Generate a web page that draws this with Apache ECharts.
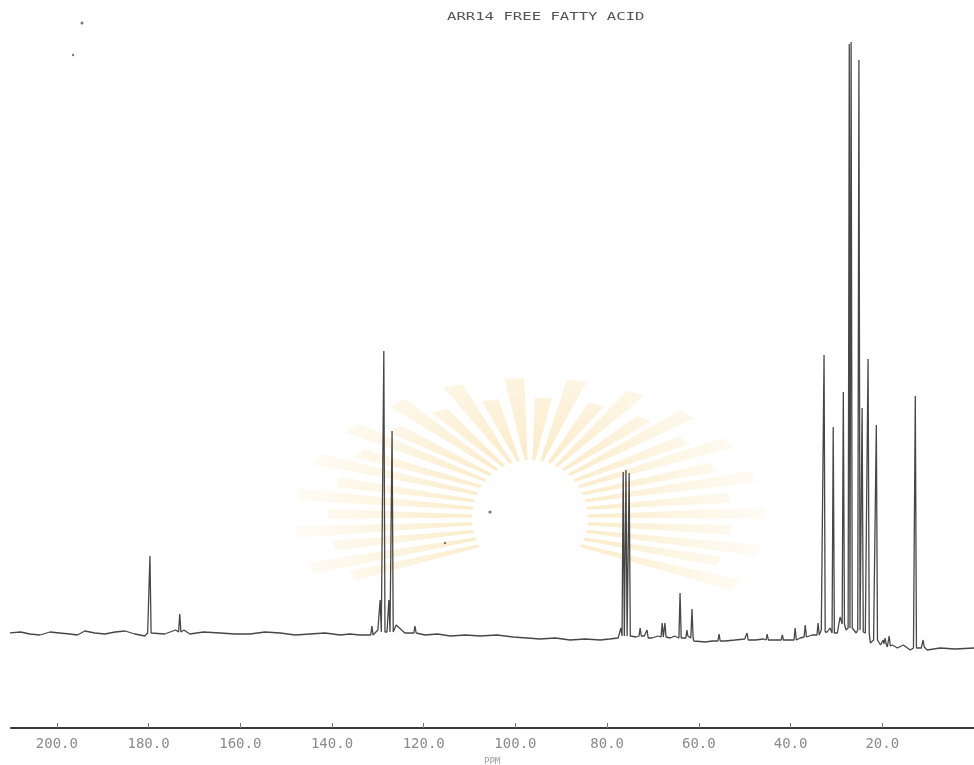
<!DOCTYPE html>
<html>
<head>
<meta charset="utf-8">
<script src="https://cdn.jsdelivr.net/npm/echarts@6/dist/echarts.min.js"></script>
<style>
  html, body { margin: 0; padding: 0; background: #ffffff; }
  #chart { width: 974px; height: 765px; }
</style>
</head>
<body>
<div id="chart"></div>
<script>
// ---- data (ppm, intensity in arbitrary units) ----
const titleText = 'ARR14 FREE FATTY ACID';
const unitText = 'PPM';
const tickValues = [200, 180, 160, 140, 120, 100, 80, 60, 40, 20];

const basePpm = [210.3,207.9,205.9,203.7,201.5,199.4,197.2,195.5,193.9,191.7,189.5,187.3,185.1,183.0,180.8,180.2,179.1,176.5,174.1,172.3,171.0,168.0,164.4,161.2,157.9,154.6,151.3,148.0,144.8,141.5,138.2,136.1,133.9,130.0,128.0,126.0,124.1,119.7,117.0,114.2,110.9,107.7,104.0,100.5,97.5,94.6,91.3,88.1,84.8,81.5,79.5,77.6,77.0,74.6,73.7,71.9,70.2,68.9,66.2,65.3,63.6,62.4,61.1,58.6,57.1,54.3,52.1,50.0,47.7,45.9,43.4,40.1,37.9,35.3,33.3,32.0,31.4,29.8,29.2,27.9,26.2,25.7,24.6,23.7,22.6,21.9,20.4,19.8,18.9,17.8,16.7,15.4,13.9,13.2,12.2,11.5,10.2,7.4,4.1,0];
const baseInt = [95,96,94,93,96,95,94,93,97,95,94,96,97,94,92,95,96,94,98,98,94,96,95,94,94,96,95,93,94,95,93,94,93,98,96,103,95,93,94,92,93,92,93,91,90,89,90,88,89,88,89,90,100,94,91,92,90,92,90,92,89,92,87,86,87,87,88,89,88,89,88,88,90,93,98,96,100,95,111,98,98,95,98,95,85,88,83,88,81,83,80,83,78,80,82,80,78,80,79,80];

const peakPpm = [179.7,173.2,131.3,129.5,128.7,127.6,126.9,121.9,76.5,75.9,75.2,72.8,71.3,68.0,67.4,64.1,62.6,61.5,55.6,49.5,45.1,41.8,39.0,36.8,34.0,32.7,30.7,28.5,27.2,26.8,25.1,24.4,23.1,21.3,19.4,18.5,12.8,11.1];
const peakTop = [172,114,102,128,377,128,297,102,256,258,255,100,98,105,105,135,98,119,94,95,94,93,100,103,105,373,301,336,684,686,668,320,369,303,90,92,332,88];
const peakFoot = [95,96,93,96,96,96,96,95,92,92,92,92,90,91,91,90,90,90,87,88,88,88,88,91,93,96,95,104,100,100,98,96,95,88,84,82,80,81];

// ---- build spectrum trace ----
const halfWidth = 0.25;
let pts = basePpm.map((p, i) => [p, baseInt[i]]);
peakPpm.forEach((p, i) => {
  pts.push([p + halfWidth, peakFoot[i]]);
  pts.push([p, peakTop[i]]);
  pts.push([p - halfWidth, peakFoot[i]]);
});
pts.sort((a, b) => b[0] - a[0]);

// ---- watermark decoration (background only) ----
const wm = [];
const cx = 530, cy = 518, r0 = 58, RX = 235, RY = 140;
const N = 32;
for (let i = 0; i < N; i++) {
  const a = Math.PI - 0.5 + i * (Math.PI + 1.0) / (N - 1);
  const f = (i % 2 ? 1 : 0.86);
  const h = 0.042;
  const p1 = [cx + r0 * Math.cos(a - h * 0.6), cy + r0 * Math.sin(a - h * 0.6)];
  const p2 = [cx + f * RX * Math.cos(a - h), cy + f * RY * Math.sin(a - h)];
  const p3 = [cx + f * RX * Math.cos(a + h), cy + f * RY * Math.sin(a + h)];
  const p4 = [cx + r0 * Math.cos(a + h * 0.6), cy + r0 * Math.sin(a + h * 0.6)];
  wm.push({
    type: 'polygon', silent: true, z: -10,
    shape: { points: [p1, p2, p3, p4] },
    style: {
      fill: new echarts.graphic.RadialGradient(cx, cy, 240, [
        { offset: 0.2, color: 'rgba(245,205,115,0.42)' },
        { offset: 0.6, color: 'rgba(248,222,160,0.30)' },
        { offset: 1, color: 'rgba(252,240,212,0.22)' }
      ], true)
    }
  });
}
// specks of dust on the scan
[[82, 23, 1.5], [73, 55, 1.2], [490, 512, 1.6], [445, 543, 1.2]].forEach(d => {
  wm.push({ type: 'circle', silent: true, shape: { cx: d[0], cy: d[1], r: d[2] }, style: { fill: '#777' } });
});

const chart = echarts.init(document.getElementById('chart'), null, { renderer: 'canvas' });
chart.setOption({
  backgroundColor: '#ffffff',
  animation: false,
  grid: { left: 11, right: 0, top: 28, bottom: 37 },
  xAxis: {
    type: 'value', inverse: true, min: 0, max: 210, interval: 20,
    axisLine: { show: true, lineStyle: { color: '#3a3a3a', width: 2 } },
    axisTick: { show: true, inside: true, length: 5, lineStyle: { color: '#777', width: 1 } },
    axisLabel: {
      margin: 9, color: '#8a8a8a', fontFamily: 'DejaVu Sans Mono', fontSize: 14,
      showMinLabel: false, showMaxLabel: false,
      formatter: v => (tickValues.indexOf(v) >= 0 ? v.toFixed(1) : '')
    },
    splitLine: { show: false }
  },
  yAxis: { type: 'value', min: 0, max: 700, show: false },
  graphic: wm.concat([
    {
      type: 'text', x: 447, y: 17, scaleX: 1.42, scaleY: 1,
      style: { text: titleText, x: 0, y: 0, fill: '#555', font: '11px "DejaVu Sans Mono"', textAlign: 'left', textVerticalAlign: 'middle' }
    },
    {
      type: 'text', x: 484, y: 757,
      style: { text: unitText, fill: '#999', font: '9px "DejaVu Sans Mono"', textAlign: 'left', textVerticalAlign: 'top' }
    }
  ]),
  series: [{
    type: 'line', data: pts, showSymbol: false, smooth: false,
    lineStyle: { color: '#474747', width: 1.3 },
    z: 5
  }]
});
</script>
</body>
</html>
